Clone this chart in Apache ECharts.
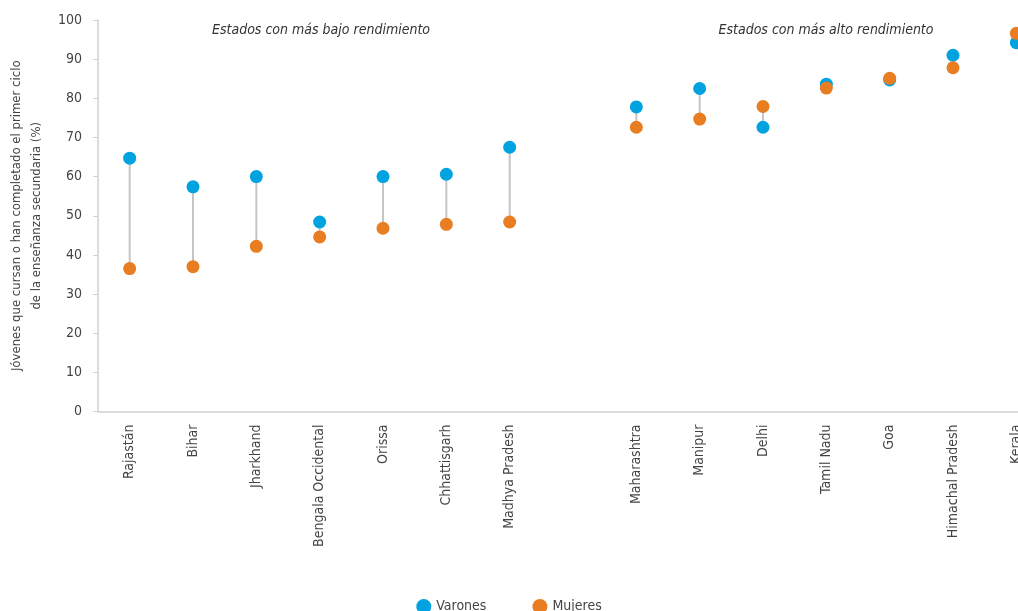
<!DOCTYPE html>
<html>
<head>
<meta charset="utf-8">
<script src="https://cdn.jsdelivr.net/npm/echarts@6/dist/echarts.min.js"></script>
<style>
html,body{margin:0;padding:0;background:#fff;}
#chart{width:1018px;height:611px;}
</style>
</head>
<body>
<div id="chart"></div>
<script>
const categories = ['Rajastán','Bihar','Jharkhand','Bengala Occidental','Orissa','Chhattisgarh','Madhya Pradesh','','Maharashtra','Manipur','Delhi','Tamil Nadu','Goa','Himachal Pradesh','Kerala'];
const varones = [64.7,57.4,60.0,48.4,60.0,60.6,67.5,null,77.8,82.5,72.6,83.6,84.7,91.0,94.2];
const mujeres = [36.5,37.0,42.2,44.6,46.8,47.8,48.4,null,72.6,74.7,77.9,82.6,85.1,87.8,96.6];
const yTicks = [0,10,20,30,40,50,60,70,80,90,100];
const groupLabels = ['Estados con más bajo rendimiento','Estados con más alto rendimiento'];
const yName = 'Jóvenes que cursan o han completado el primer ciclo\nde la enseñanza secundaria (%)';

const FONT = '"Liberation Sans Narrow","DejaVu Sans Condensed","Roboto",sans-serif';
const BLUE = '#00a3e0';
const ORANGE = '#e87d22';

const connectorData = categories.map((c,i)=> (varones[i]==null? null : [i, varones[i], mujeres[i]])).filter(d=>d);

const chart = echarts.init(document.getElementById('chart'), null, {renderer:'canvas'});
chart.setOption({
  animation:false,
  textStyle:{fontFamily:FONT},
  grid:{left:98, top:20, width:950, height:391.5, outerBoundsMode:'none', containLabel:false},
  legend:{
    data:['Varones','Mujeres'],
    left:'center', top:594,
    icon:'circle', itemWidth:15, itemHeight:15, itemGap:46,
    textStyle:{fontFamily:FONT, fontSize:14, color:'#444'}
  },
  graphic:[
    {type:'text', x:321, y:30, style:{text:groupLabels[0], fontFamily:FONT, fontSize:14, fontStyle:'italic', fill:'#333', align:'center', verticalAlign:'middle'}},
    {type:'text', x:826, y:30, style:{text:groupLabels[1], fontFamily:FONT, fontSize:14, fontStyle:'italic', fill:'#333', align:'center', verticalAlign:'middle'}}
  ],
  xAxis:{
    type:'category', data:categories, boundaryGap:true,
    axisLine:{lineStyle:{color:'#d0d0d0', width:1.5}},
    axisTick:{show:false},
    axisLabel:{rotate:90, interval:0, margin:13, fontFamily:FONT, fontSize:14, color:'#444'},
    splitLine:{show:false}
  },
  yAxis:{
    type:'value', min:0, max:100, interval:10,
    name:yName, nameLocation:'middle', nameGap:50, nameRotate:90,
    nameTextStyle:{fontFamily:FONT, fontSize:13, color:'#444', lineHeight:20},
    axisLine:{show:true, lineStyle:{color:'#d0d0d0', width:1.5}},
    axisTick:{show:true, inside:false, length:5, lineStyle:{color:'#d0d0d0'}},
    axisLabel:{margin:16, fontFamily:FONT, fontSize:14, color:'#444',
      formatter:(v)=> yTicks.includes(v)? String(v):''},
    splitLine:{show:false}
  },
  series:[
    {
      type:'custom', name:'conn', silent:true, z:1,
      data:connectorData,
      encode:{x:0, y:[1,2]},
      renderItem:function(params, api){
        const p1 = api.coord([api.value(0), api.value(1)]);
        const p2 = api.coord([api.value(0), api.value(2)]);
        return {type:'line', shape:{x1:p1[0], y1:p1[1], x2:p2[0], y2:p2[1]}, style:{stroke:'#c9c4c4', lineWidth:2}};
      }
    },
    {type:'scatter', name:'Varones', data:varones, symbol:'circle', symbolSize:13, itemStyle:{color:BLUE, opacity:1}, z:2},
    {type:'scatter', name:'Mujeres', data:mujeres, symbol:'circle', symbolSize:13, itemStyle:{color:ORANGE, opacity:1}, z:3}
  ]
});
</script>
</body>
</html>
